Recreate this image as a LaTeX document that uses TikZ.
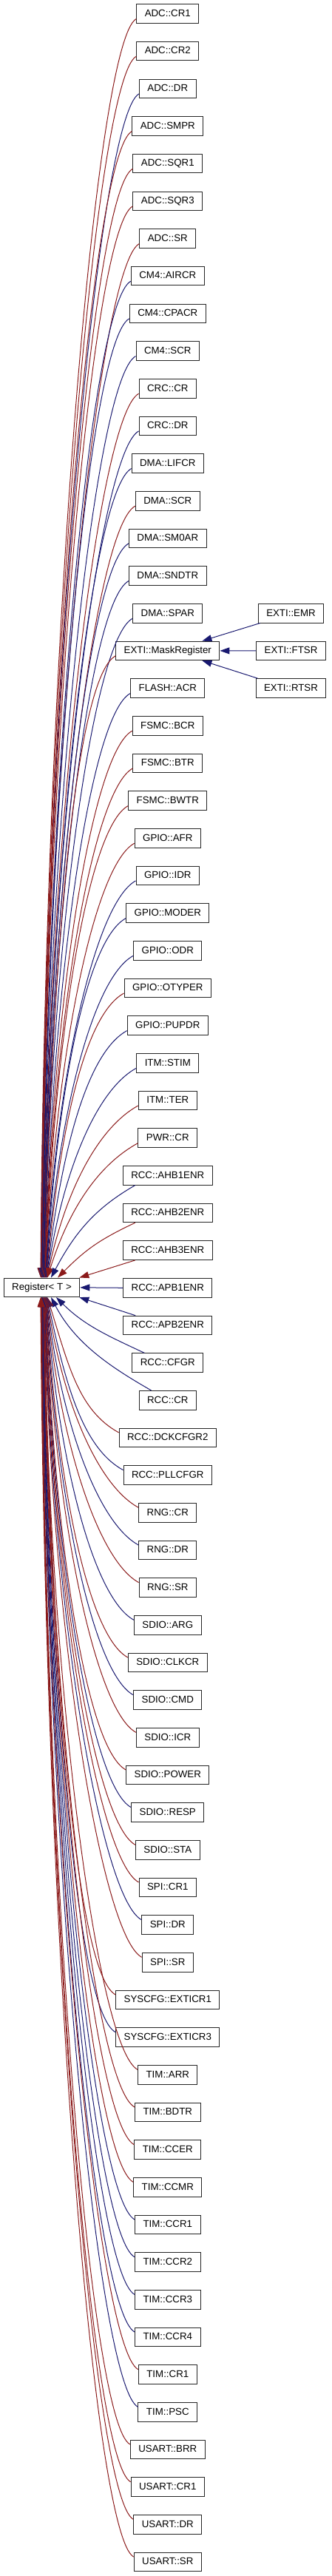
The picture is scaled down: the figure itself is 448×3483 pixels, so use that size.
\documentclass[tikz,border=0pt]{standalone}
\usepackage{fontspec}
\setmainfont{Liberation Sans}
\usetikzlibrary{arrows.meta}
\definecolor{edgeblue}{HTML}{191970}
\definecolor{edgered}{HTML}{8B1A1A}
\tikzset{
  box/.style={draw=black!85, line width=1pt, fill=white, inner xsep=11pt, inner ysep=0pt,
    minimum height=25.6pt, text height=10pt, text depth=2.4pt, font=\fontsize{13.3}{16}\selectfont},
  edge/.style={line width=1pt, -{Triangle[length=13pt,width=9pt]}},
  eb/.style={edge, draw=edgeblue},
  er/.style={edge, draw=edgered},
}
\begin{document}
\begin{tikzpicture}[x=1pt,y=1pt]
\useasboundingbox (0,0) rectangle (448,-3483);
\node[box] (reg) at (56.5,-1740.8) {Register< T >};
\foreach \i/\lab in {0/ADC::CR1,1/ADC::CR2,2/ADC::DR,3/ADC::SMPR,4/ADC::SQR1,5/ADC::SQR3,6/ADC::SR,
  7/CM4::AIRCR,8/CM4::CPACR,9/CM4::SCR,10/CRC::CR,11/CRC::DR,12/DMA::LIFCR,13/DMA::SCR,14/DMA::SM0AR,
  15/DMA::SNDTR,16/DMA::SPAR,17/EXTI::MaskRegister,18/FLASH::ACR,19/FSMC::BCR,20/FSMC::BTR,21/FSMC::BWTR,
  22/GPIO::AFR,23/GPIO::IDR,24/GPIO::MODER,25/GPIO::ODR,26/GPIO::OTYPER,27/GPIO::PUPDR,28/ITM::STIM,
  29/ITM::TER,30/PWR::CR,31/RCC::AHB1ENR,32/RCC::AHB2ENR,33/RCC::AHB3ENR,34/RCC::APB1ENR,35/RCC::APB2ENR,
  36/RCC::CFGR,37/RCC::CR,38/RCC::DCKCFGR2,39/RCC::PLLCFGR,40/RNG::CR,41/RNG::DR,42/RNG::SR,43/SDIO::ARG,
  44/SDIO::CLKCR,45/SDIO::CMD,46/SDIO::ICR,47/SDIO::POWER,48/SDIO::RESP,49/SDIO::STA,50/SPI::CR1,
  51/SPI::DR,52/SPI::SR,53/SYSCFG::EXTICR1,54/SYSCFG::EXTICR3,55/TIM::ARR,56/TIM::BDTR,57/TIM::CCER,
  58/TIM::CCMR,59/TIM::CCR1,60/TIM::CCR2,61/TIM::CCR3,62/TIM::CCR4,63/TIM::CR1,64/TIM::PSC,
  65/USART::BRR,66/USART::CR1,67/USART::DR,68/USART::SR}{
  \node[box] (c\i) at (226.8,{-(18.5+\i*50.67)}) {\lab};
}
\node[box] (emr) at (393.5,-829.2) {EXTI::EMR};
\node[box] (ftsr) at (393.5,-879.9) {EXTI::FTSR};
\node[box] (rtsr) at (393.5,-930.5) {EXTI::RTSR};
\draw[eb] ([xshift=3pt]emr.south west) -- ([xshift=-24pt]c17.north east);
\draw[eb] (ftsr.west) -- (c17.east);
\draw[eb] ([xshift=3pt]rtsr.north west) -- ([xshift=-24pt]c17.south east);
% above, leaving from left side
\foreach \i/\col in {0/r,1/r,2/b,3/r,4/r,5/r,6/r,7/b,8/b,9/b,10/r,11/b,12/b,13/r,14/b,15/b,16/b,17/r,
  18/b,19/r,20/r,21/r,22/r,23/b,24/b,25/b,26/r,27/b,28/b,29/r,30/r}{
  \pgfmathsetmacro\ys{18.5+\i*50.67+6.3}
  \pgfmathsetmacro\D{1728.3-\ys}
  \pgfmathsetmacro\xt{55+0.3*\i}
  \pgfmathsetmacro\W{185-\xt}
  \pgfmathsetmacro\ax{-min(55,0.45*\W)}
  \pgfmathsetmacro\ay{-min(30,0.3*\D)}
  \pgfmathsetmacro\bx{0.6*\W*\W/(\W+\D)}
  \pgfmathsetmacro\by{0.5*\D}
  \pgfmathsetmacro\dx{\xt-4.7}
  \draw[e\col] ([yshift=6.3pt]c\i.south west) .. controls +(\ax,\ay) and +(\bx,\by) .. ([xshift=\dx pt]reg.north west);
}
% above, leaving from bottom
\foreach \i/\col/\xt in {31/b/69,32/r/78}{
  \pgfmathsetmacro\ys{18.5+\i*50.67+12.8}
  \pgfmathsetmacro\D{1728.3-\ys}
  \pgfmathsetmacro\W{185-\xt}
  \pgfmathsetmacro\ax{-min(55,0.45*\W)}
  \pgfmathsetmacro\ay{-min(30,0.3*\D)}
  \pgfmathsetmacro\bx{0.6*\W*\W/(\W+\D)}
  \pgfmathsetmacro\by{0.5*\D}
  \pgfmathsetmacro\dx{\xt-4.7}
  \draw[e\col] ([xshift=17pt]c\i.south west) .. controls +(\ax,\ay) and +(\bx,\by) .. ([xshift=\dx pt]reg.north west);
}
\draw[er] ([xshift=17pt]c33.south west) -- ([xshift=-1pt]reg.north east);
\draw[eb] (c34.west) -- (reg.east);
\draw[eb] ([xshift=17pt]c35.north west) -- ([xshift=-1pt]reg.south east);
% below, leaving from top
\foreach \i/\col/\xt in {36/b/76,37/b/69}{
  \pgfmathsetmacro\ys{18.5+\i*50.67-12.8}
  \pgfmathsetmacro\D{\ys-1753.3}
  \pgfmathsetmacro\W{185-\xt}
  \pgfmathsetmacro\ax{-min(55,0.45*\W)}
  \pgfmathsetmacro\ay{min(30,0.3*\D)}
  \pgfmathsetmacro\bx{0.6*\W*\W/(\W+\D)}
  \pgfmathsetmacro\by{-0.5*\D}
  \pgfmathsetmacro\dx{\xt-4.7}
  \draw[e\col] ([xshift=17pt]c\i.north west) .. controls +(\ax,\ay) and +(\bx,\by) .. ([xshift=\dx pt]reg.south west);
}
% below, leaving from left side
\foreach \i/\col in {38/r,39/b,40/r,41/b,42/r,43/b,44/r,45/b,46/r,47/r,48/b,49/r,50/r,51/b,52/r,53/r,
  54/b,55/r,56/r,57/r,58/r,59/b,60/b,61/b,62/b,63/r,64/b,65/r,66/r,67/r,68/r}{
  \pgfmathsetmacro\ys{18.5+\i*50.67-6.3}
  \pgfmathsetmacro\D{\ys-1753.3}
  \pgfmathsetmacro\xt{55+0.3*(68-\i)}
  \pgfmathsetmacro\W{185-\xt}
  \pgfmathsetmacro\ax{-min(55,0.45*\W)}
  \pgfmathsetmacro\ay{min(30,0.3*\D)}
  \pgfmathsetmacro\bx{0.6*\W*\W/(\W+\D)}
  \pgfmathsetmacro\by{-0.5*\D}
  \pgfmathsetmacro\dx{\xt-4.7}
  \draw[e\col] ([yshift=-6.3pt]c\i.north west) .. controls +(\ax,\ay) and +(\bx,\by) .. ([xshift=\dx pt]reg.south west);
}
\end{tikzpicture}
\end{document}
